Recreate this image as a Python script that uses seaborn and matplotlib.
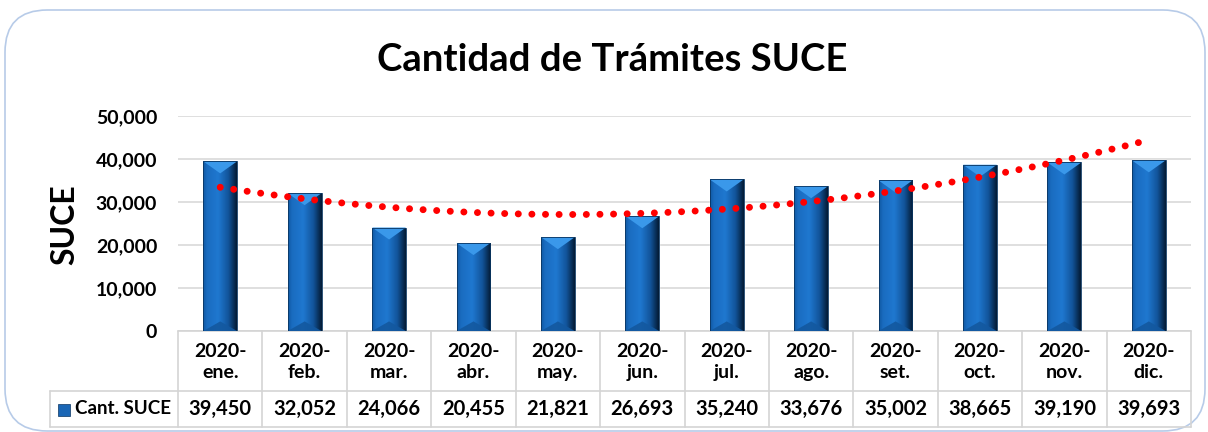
import numpy as np
import pandas as pd
import matplotlib
matplotlib.use("Agg")
import matplotlib.pyplot as plt
import matplotlib.transforms as mtransforms
from matplotlib.patches import FancyBboxPatch, Polygon, Rectangle
from matplotlib.colors import LinearSegmentedColormap
import seaborn as sns

# ---- data ----
months = ["2020-\nene.", "2020-\nfeb.", "2020-\nmar.", "2020-\nabr.", "2020-\nmay.", "2020-\njun.",
          "2020-\njul.", "2020-\nago.", "2020-\nset.", "2020-\noct.", "2020-\nnov.", "2020-\ndic."]
values = [39450, 32052, 24066, 20455, 21821, 26693, 35240, 33676, 35002, 38665, 39190, 39693]
series_name = "Cant. SUCE"
title = "Cantidad de Trámites SUCE"
ylabel = "SUCE"
yticks = [0, 10000, 20000, 30000, 40000, 50000]

df = pd.DataFrame({"mes": months, "valor": values, "pos": np.arange(len(months))})

sns.set_theme(style="white")
FONT = ["Lato", "DejaVu Sans"]
plt.rcParams["font.family"] = FONT
plt.rcParams["text.color"] = "black"
plt.rcParams["ytick.color"] = "black"

W, H = 1208, 432
fig = plt.figure(figsize=(W / 100, H / 100), dpi=100)

# rounded chart frame
frame = FancyBboxPatch((5 / W, 1 / H), 1200 / W, 421 / H,
                       boxstyle="round,pad=0,rounding_size=0.035",
                       transform=fig.transFigure, facecolor="none",
                       edgecolor="#b7cbe8", lw=1.2, zorder=-5, mutation_aspect=W / H)
fig.patches.append(frame)

L, R, T, B = 178, 1191, 116, 331
ax = fig.add_axes([L / W, 1 - B / H, (R - L) / W, (B - T) / H])
ax.set_facecolor("none")

sns.barplot(data=df, x="mes", y="valor", ax=ax, width=0.4, color="#1a6fc4",
            saturation=1, errorbar=None, zorder=3)

# gradient/bevel for the bars
cmap = LinearSegmentedColormap.from_list("bar", [
    (0.0, "#1058a2"), (0.12, "#1a6cc0"), (0.45, "#1f78d0"),
    (0.75, "#12549a"), (1.0, "#031a33")])
grad = np.linspace(0, 1, 256).reshape(1, -1)
px_per_unit = (B - T) / 50000.0
bev = 12 / px_per_unit
for p in list(ax.patches):
    x0, y0 = p.get_x(), p.get_y()
    w, h = p.get_width(), p.get_height()
    im = ax.imshow(grad, cmap=cmap, aspect="auto", extent=(x0, x0 + w, y0, y0 + h),
                   zorder=4, interpolation="bicubic")
    im.set_clip_path(p)
    xc = x0 + w / 2
    ax.add_patch(Polygon([(x0, y0 + h), (x0 + w, y0 + h), (xc, y0 + h - bev)],
                         closed=True, facecolor="#3a98ea", edgecolor="none", zorder=5))
    ax.add_patch(Polygon([(x0, y0), (x0 + w, y0), (xc, y0 + bev * 0.8)],
                         closed=True, facecolor="#13589f", edgecolor="none", zorder=5, alpha=0.9))
    ax.add_patch(Rectangle((x0, y0), w, h, facecolor="none", edgecolor="#0a3561", lw=0.6, zorder=6))

# polynomial (order 2) trend line, as in the original
sns.regplot(data=df, x="pos", y="valor", order=2, ci=None, scatter=False, ax=ax,
            line_kws=dict(color="#ff0000", lw=5.0, linestyle=(0, (0.01, 1.95)),
                          dash_capstyle="round", zorder=7))

ax.set_xlim(-0.5, len(months) - 0.5)
ax.set_ylim(0, 50000)
ax.set_yticks(yticks)
ax.set_yticklabels([f"{v:,}" for v in yticks], fontweight="bold", fontsize=14, color="black")
ax.tick_params(axis="y", length=0, pad=15)
ax.set_xticks([])
ax.set_xlabel("")
ax.set_ylabel("")
ax.grid(axis="y", color="#d9d9d9", lw=1.2, zorder=0)
for s in ax.spines.values():
    s.set_visible(False)

# ---- data table ----
tr = mtransforms.blended_transform_factory(ax.transData, ax.transAxes)
ph = B - T
y_hdr = -60 / ph
y_val = -96 / ph
gc = "#d4d4d4"
n = len(months)
x_leg = -0.5 - (L - 50) / ((R - L) / n)
ax.plot([-0.5, n - 0.5], [0, 0], color=gc, lw=1.2, transform=tr, clip_on=False)
ax.plot([x_leg, n - 0.5], [y_hdr, y_hdr], color=gc, lw=1.2, transform=tr, clip_on=False)
ax.plot([x_leg, n - 0.5], [y_val, y_val], color=gc, lw=1.2, transform=tr, clip_on=False)
ax.plot([x_leg, x_leg], [y_hdr, y_val], color=gc, lw=1.2, transform=tr, clip_on=False)
for i in range(n + 1):
    ax.plot([i - 0.5, i - 0.5], [0, y_val], color=gc, lw=1.2, transform=tr, clip_on=False)

for i, (m, v) in enumerate(zip(months, values)):
    ax.text(i, y_hdr / 2 - 1 / ph, m, ha="center", va="center", fontsize=14, fontweight="bold",
            transform=tr, linespacing=1.3)
    ax.text(i, (y_hdr + y_val) / 2, f"{v:,}", ha="center", va="center", fontsize=14.5,
            fontweight="bold", transform=tr)

# legend key inside table
fig.patches.append(Rectangle((58 / W, 1 - 416 / H), 12 / W, 12 / H, transform=fig.transFigure,
                             facecolor="#1a66b5", edgecolor="#0a3561", lw=0.5))
fig.text(75 / W, 1 - 409 / H, series_name, ha="left", va="center", fontsize=13.5, fontweight="bold")

fig.text(612 / W, 1 - 60 / H, title, ha="center", va="center", fontsize=27.5, fontweight="bold")
fig.text(65 / W, 1 - 225 / H, ylabel, ha="center", va="center", fontsize=23, fontweight="bold",
         rotation=90)

fig.savefig("out.png", dpi=100)
